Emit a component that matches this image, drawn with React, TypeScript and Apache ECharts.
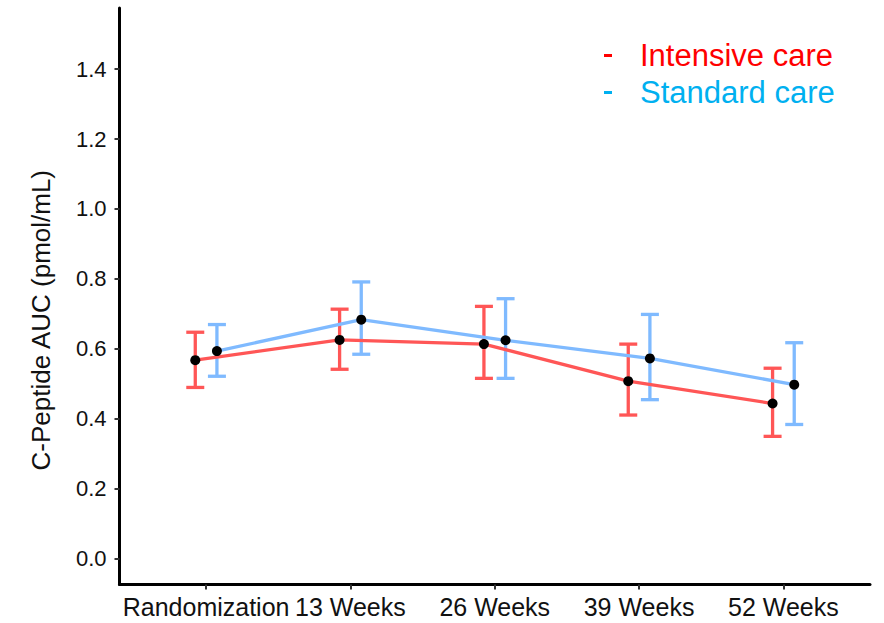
import React, { useEffect, useRef } from "react";
import * as echarts from "echarts";

const categories = ["Randomization", "13 Weeks", "26 Weeks", "39 Weeks", "52 Weeks"];
const yTicks = [0, 0.2, 0.4, 0.6, 0.8, 1.0, 1.2, 1.4];

const intensiveMean = [0.567, 0.625, 0.613, 0.507, 0.443];
const intensiveLower = [0.489, 0.541, 0.515, 0.41, 0.349];
const intensiveUpper = [0.647, 0.713, 0.721, 0.613, 0.544];

const standardMean = [0.593, 0.683, 0.624, 0.572, 0.497];
const standardLower = [0.521, 0.584, 0.515, 0.454, 0.383];
const standardUpper = [0.669, 0.791, 0.743, 0.698, 0.617];

const DODGE = 0.075;
const RED_LINE = "#FF5656";
const BLUE_LINE = "#7FBAFF";
const FONT = "'Liberation Sans', Arial, sans-serif";

function errorBarSeries(name: string, color: string, offset: number, lower: number[], upper: number[]) {
  return {
    name,
    type: "custom",
    z: 1,
    data: lower.map((lo, i) => [i + offset, lo, upper[i]]),
    encode: { x: 0, y: [1, 2] },
    renderItem: (_params: any, api: any) => {
      const x = api.value(0);
      const pLo = api.coord([x, api.value(1)]);
      const pHi = api.coord([x, api.value(2)]);
      const cap = 9;
      const style = { stroke: color, lineWidth: 3.3 };
      return {
        type: "group",
        children: [
          { type: "line", shape: { x1: pLo[0], y1: pLo[1], x2: pHi[0], y2: pHi[1] }, style },
          { type: "line", shape: { x1: pHi[0] - cap, y1: pHi[1], x2: pHi[0] + cap, y2: pHi[1] }, style },
          { type: "line", shape: { x1: pLo[0] - cap, y1: pLo[1], x2: pLo[0] + cap, y2: pLo[1] }, style },
        ],
      };
    },
  };
}

function lineSeries(name: string, color: string, offset: number, means: number[]) {
  return {
    name,
    type: "line",
    z: 3,
    data: means.map((m, i) => [i + offset, m]),
    symbol: "circle",
    symbolSize: 10,
    showSymbol: true,
    lineStyle: { color, width: 3.3 },
    itemStyle: { color: "#000" },
  };
}

export default function App() {
  const ref = useRef<HTMLDivElement>(null);
  useEffect(() => {
    if (!ref.current) return;
    const chart = echarts.init(ref.current, null, { renderer: "svg" });
    chart.setOption({
      animation: false,
      backgroundColor: "#fff",
      grid: { left: 119.5, right: 14, top: 8, bottom: 38.5, containLabel: false },
      legend: {
        orient: "vertical",
        left: 604,
        top: 40,
        padding: 0,
        icon: "rect",
        itemWidth: 8,
        itemHeight: 3,
        itemGap: 6,
        selectedMode: false,
        textStyle: { fontFamily: FONT, fontSize: 31, lineHeight: 31, padding: [0, 0, 0, 23] },
        data: [
          { name: "Intensive care", icon: "rect", itemStyle: { color: "#FF0000" }, textStyle: { color: "#FF0000" } },
          { name: "Standard care", icon: "rect", itemStyle: { color: "#00B0F0" }, textStyle: { color: "#00B0F0" } },
        ],
      },
      xAxis: {
        type: "value",
        min: -0.6,
        max: 4.6,
        splitLine: { show: false },
        axisLine: { show: true, onZero: false, lineStyle: { color: "#000", width: 3 } },
        axisTick: { show: true, customValues: [0, 1, 2, 3, 4], length: 5, lineStyle: { color: "#333", width: 2 } },
        axisLabel: {
          customValues: [0, 1, 2, 3, 4],
          formatter: (v: number) => categories[Math.round(v)] ?? "",
          fontFamily: FONT,
          fontSize: 25,
          color: "#111",
          margin: 10,
        },
      },
      yAxis: {
        type: "value",
        min: -0.075,
        max: 1.575,
        splitLine: { show: false },
        name: "C-Peptide AUC (pmol/mL)",
        nameLocation: "middle",
        nameGap: 66,
        nameTextStyle: { fontFamily: FONT, fontSize: 26, color: "#111", padding: [0, 48, 0, 0] },
        axisLine: { show: true, onZero: false, lineStyle: { color: "#000", width: 3 } },
        axisTick: { show: true, customValues: yTicks, length: 5, lineStyle: { color: "#333", width: 2 } },
        axisLabel: {
          customValues: yTicks,
          formatter: (v: number) => v.toFixed(1),
          fontFamily: FONT,
          fontSize: 22,
          color: "#111",
          margin: 13,
        },
      },
      series: [
        errorBarSeries("Intensive care", RED_LINE, -DODGE, intensiveLower, intensiveUpper),
        errorBarSeries("Standard care", BLUE_LINE, DODGE, standardLower, standardUpper),
        lineSeries("Intensive care", RED_LINE, -DODGE, intensiveMean),
        lineSeries("Standard care", BLUE_LINE, DODGE, standardMean),
      ],
    });
    return () => chart.dispose();
  }, []);
  return (
    <div
      ref={ref}
      style={{ position: "absolute", left: 0, top: 0, width: 884, height: 623 }}
    />
  );
}
